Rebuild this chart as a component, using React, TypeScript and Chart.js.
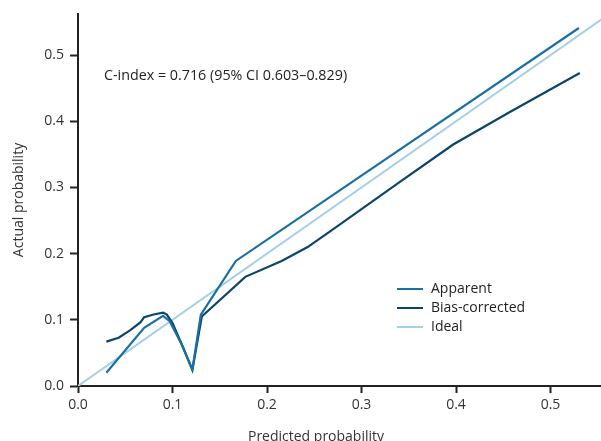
import React, { useEffect, useRef } from "react";
import { Chart, registerables } from "chart.js";

Chart.register(...registerables);

const apparentX = [0.03, 0.07, 0.09, 0.097, 0.11, 0.121, 0.13, 0.167, 0.53];
const apparentY = [0.02, 0.088, 0.106, 0.098, 0.062, 0.025, 0.108, 0.189, 0.541];

const biasX = [0.03, 0.043, 0.055, 0.066, 0.07, 0.08, 0.09, 0.094, 0.1, 0.111, 0.121, 0.131, 0.177, 0.2155, 0.243, 0.275, 0.341, 0.397, 0.457, 0.531];
const biasY = [0.067, 0.073, 0.084, 0.096, 0.104, 0.108, 0.111, 0.108, 0.095, 0.059, 0.024, 0.105, 0.165, 0.189, 0.21, 0.242, 0.309, 0.365, 0.414, 0.473];

const idealX = [0, 0.6];
const idealY = [0, 0.6];

const seriesNames = ["Apparent", "Bias-corrected", "Ideal"];
const seriesColors = ["#1a70a3", "#0d4569", "#a6d0e6"];
const annotationText = "C-index = 0.716 (95% CI 0.603\u20130.829)";
const xTitle = "Predicted probability";
const yTitle = "Actual probability";

const FONT = "'Open Sans', 'Noto Sans', sans-serif";
const TEXT = "#333333";

const toPts = (xs: number[], ys: number[]) => xs.map((x, i) => ({ x, y: ys[i] }));

export default function App() {
  const ref = useRef<HTMLCanvasElement | null>(null);

  useEffect(() => {
    if (!ref.current) return;
    const overlay = {
      id: "overlay",
      afterDraw(chart: any) {
        const ctx = chart.ctx;
        ctx.save();
        ctx.textAlign = "left";
        ctx.textBaseline = "middle";
        // annotation
        ctx.font = `14.3px ${FONT}`;
        ctx.fillStyle = "#222222";
        ctx.fillText(annotationText, 104, 76);
        // legend
        ctx.font = `14px ${FONT}`;
        const rows = [289, 308, 327];
        seriesNames.forEach((name, i) => {
          ctx.strokeStyle = seriesColors[i];
          ctx.lineWidth = 2;
          ctx.beginPath();
          ctx.moveTo(397, rows[i]);
          ctx.lineTo(423, rows[i]);
          ctx.stroke();
          ctx.fillStyle = "#222222";
          ctx.fillText(name, 431, rows[i]);
        });
        // x title
        ctx.fillStyle = TEXT;
        ctx.textAlign = "center";
        ctx.textBaseline = "alphabetic";
        ctx.fillText(xTitle, 316, 440.5);
        // y title
        ctx.translate(19, 200);
        ctx.rotate(-Math.PI / 2);
        ctx.textBaseline = "middle";
        ctx.fillText(yTitle, 0, 0);
        ctx.restore();
      },
    };

    const chart = new Chart(ref.current, {
      type: "line",
      data: {
        datasets: [
          {
            label: seriesNames[0],
            data: toPts(apparentX, apparentY),
            borderColor: seriesColors[0],
            borderWidth: 2.2,
            pointRadius: 0,
            tension: 0,
          },
          {
            label: seriesNames[1],
            data: toPts(biasX, biasY),
            borderColor: seriesColors[1],
            borderWidth: 2.2,
            pointRadius: 0,
            tension: 0,
          },
          {
            label: seriesNames[2],
            data: toPts(idealX, idealY),
            borderColor: seriesColors[2],
            borderWidth: 2,
            pointRadius: 0,
            tension: 0,
          },
        ],
      },
      options: {
        responsive: false,
        animation: false,
        layout: { padding: { top: 12, left: 0, right: 0, bottom: 0 } },
        plugins: { legend: { display: false }, tooltip: { enabled: false } },
        scales: {
          x: {
            type: "linear",
            min: 0,
            max: 0.5534,
            afterFit: (s: any) => {
              s.height = 55;
            },
            border: { display: true, color: "#222222", width: 2 },
            grid: { display: true, drawOnChartArea: false, drawTicks: true, tickLength: 7, tickWidth: 2, tickColor: "#222222" },
            ticks: {
              stepSize: 0.1,
              includeBounds: false,
              color: TEXT,
              font: { family: FONT, size: 14 },
              padding: 4,
              maxRotation: 0,
              callback: (v: any) => Number(v).toFixed(1),
            },
          },
          y: {
            type: "linear",
            min: 0,
            max: 0.5616,
            afterFit: (s: any) => {
              s.width = 78;
            },
            border: { display: true, color: "#222222", width: 2 },
            grid: { display: true, drawOnChartArea: false, drawTicks: true, tickLength: 8, tickWidth: 2, tickColor: "#222222" },
            ticks: {
              stepSize: 0.1,
              includeBounds: false,
              color: TEXT,
              font: { family: FONT, size: 14 },
              padding: 6,
              callback: (v: any) => Number(v).toFixed(1),
            },
          },
        },
      },
      plugins: [overlay],
    });
    return () => chart.destroy();
  }, []);

  return (
    <div style={{ position: "absolute", left: 0, top: 0, width: 601, height: 441, background: "#ffffff" }}>
      <canvas ref={ref} width={601} height={441} style={{ display: "block" }} />
    </div>
  );
}
